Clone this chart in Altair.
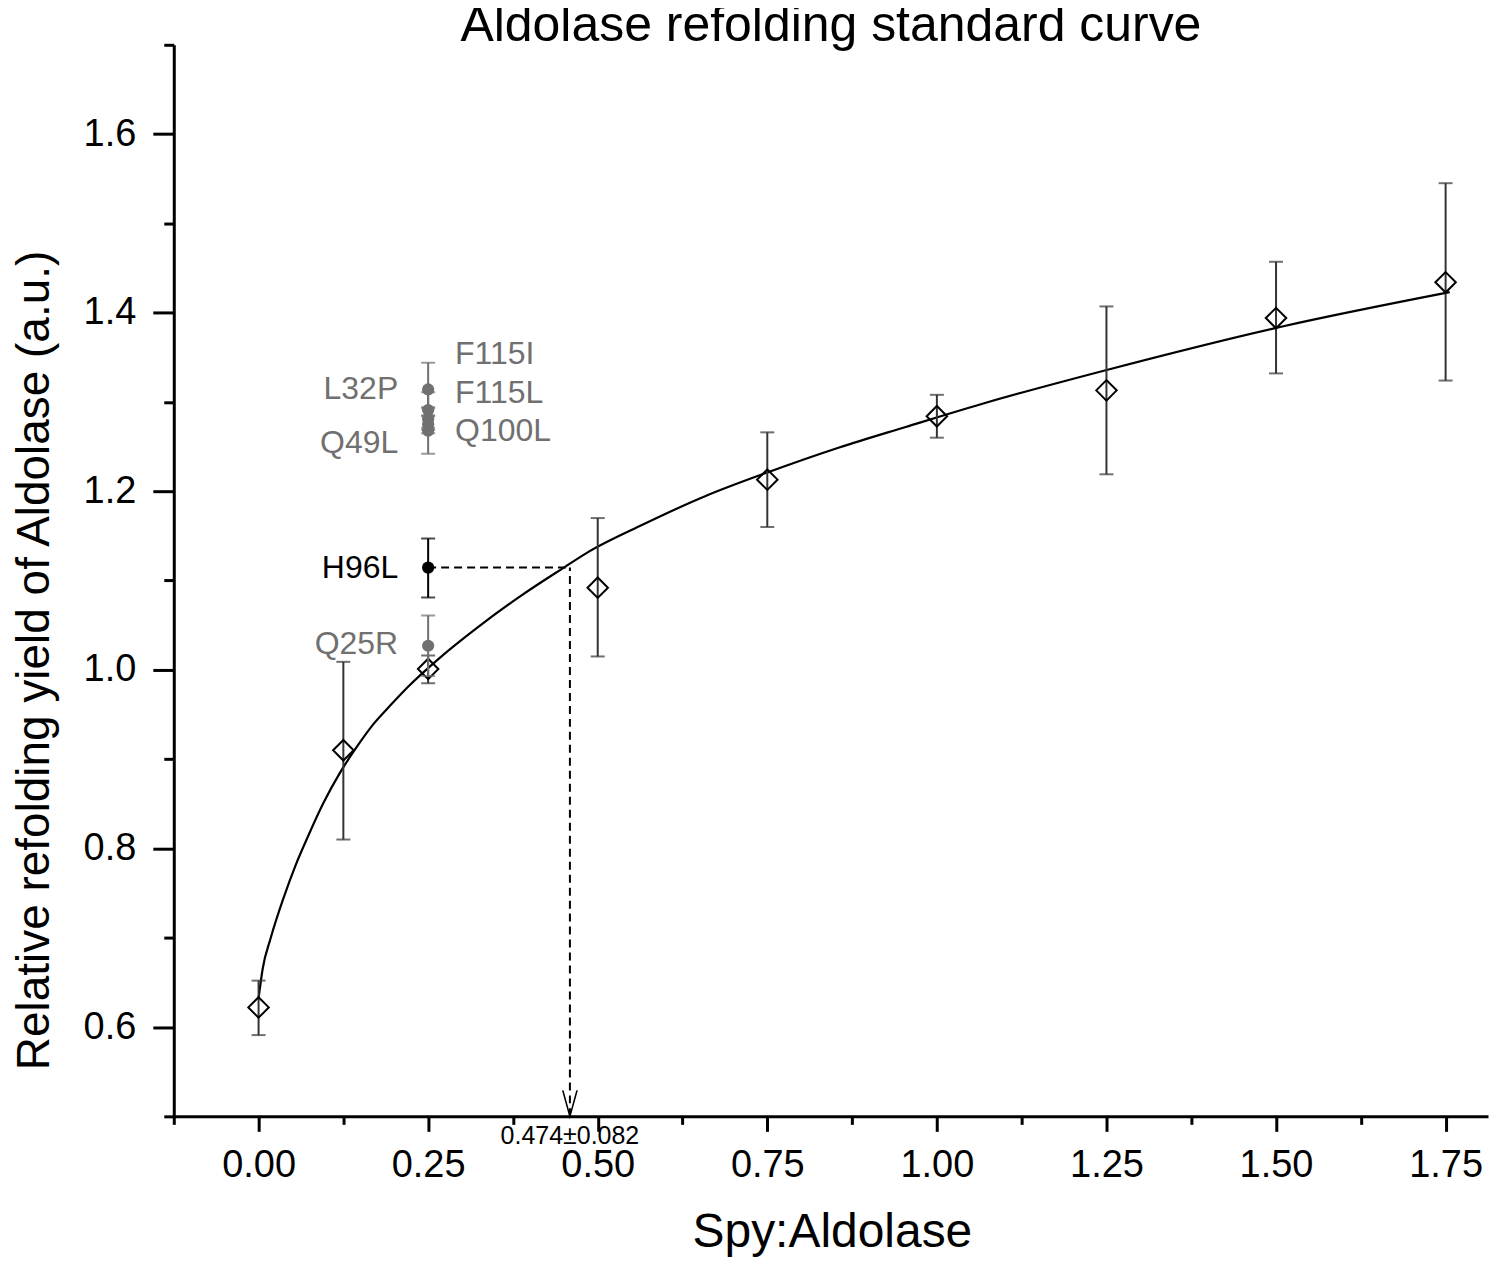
import altair as alt
import pandas as pd

# ---------------- data ----------------
std_x = [0.0, 0.125, 0.25, 0.5, 0.75, 1.0, 1.25, 1.5, 1.75]
std_y = [0.622, 0.910, 1.001, 1.092, 1.213, 1.284, 1.313, 1.394, 1.434]
std_lo = [0.591, 0.810, 0.985, 1.015, 1.160, 1.260, 1.219, 1.332, 1.324]
std_hi = [0.652, 1.009, 1.016, 1.170, 1.266, 1.308, 1.407, 1.457, 1.545]

curve_x = [0.0, 0.006, 0.018, 0.037, 0.055, 0.072, 0.095, 0.121, 0.145, 0.169,
           0.194, 0.219, 0.268, 0.322, 0.385, 0.449, 0.484, 0.562, 0.660, 0.750,
           0.856, 0.954, 1.076, 1.256, 1.506, 1.756]
curve_y = [0.632, 0.665, 0.700, 0.745, 0.782, 0.812, 0.850, 0.886, 0.914, 0.939,
           0.960, 0.980, 1.014, 1.047, 1.082, 1.114, 1.131, 1.161, 1.195, 1.221,
           1.249, 1.272, 1.300, 1.337, 1.384, 1.423]

mut_names = ["L32P", "F115I", "F115L", "Q100L", "Q49L", "H96L", "Q25R"]
mut_x = [0.25, 0.25, 0.25, 0.25, 0.25, 0.25, 0.25]
mut_y = [1.314, 1.291, 1.281, 1.275, 1.268, 1.1145, 1.027]
mut_lo = [1.284, 1.271, 1.269, 1.265, 1.242, 1.081, 0.993]
mut_hi = [1.344, 1.311, 1.293, 1.285, 1.294, 1.147, 1.061]
mut_color = ["#707070", "#707070", "#707070", "#707070", "#707070", "#000000", "#707070"]
mut_side = ["left", "right", "right", "right", "left", "left", "left"]
label_y = [1.314, 1.354, 1.310, 1.267, 1.254, 1.1145, 1.0295]

guide_x = 0.459          # read-off position of H96L on the curve
guide_y = 1.1145
guide_text = "0.474±0.082"

x_tick_values = [-0.125, 0.0, 0.125, 0.25, 0.375, 0.5, 0.625, 0.75, 0.875,
                 1.0, 1.125, 1.25, 1.375, 1.5, 1.625, 1.75]
y_tick_values = [0.5, 0.6, 0.7, 0.8, 0.9, 1.0, 1.1, 1.2, 1.3, 1.4, 1.5, 1.6, 1.7]

FONT = "Liberation Sans"

# ---------------- tables ----------------
std = pd.DataFrame({"x": std_x, "y": std_y, "lo": std_lo, "hi": std_hi})
curve = pd.DataFrame({"x": curve_x, "y": curve_y})
mut = pd.DataFrame({"name": mut_names, "x": mut_x, "y": mut_y, "lo": mut_lo,
                    "hi": mut_hi, "color": mut_color, "side": mut_side,
                    "ly": label_y})
hguide = pd.DataFrame({"x": [mut_x[5]], "x2": [guide_x], "y": [guide_y]})
vguide = pd.DataFrame({"x": [guide_x], "y": [0.5], "y2": [guide_y], "t": [guide_text]})

xscale = alt.Scale(domain=[-0.125, 1.8125], nice=False, zero=False)
yscale = alt.Scale(domain=[0.5, 1.7], nice=False, zero=False)

xaxis = alt.Axis(
    values=x_tick_values,
    labelExpr="round(datum.value*8) % 2 == 0 ? format(datum.value, '.2f') : ''",
    tickSize={"condition": {"test": "round(datum.value*8) % 2 == 0", "value": 15}, "value": 8},
    labelPadding=15,
    title="Spy:Aldolase",
    titleX=659, titleY=130, titleBaseline="alphabetic", titleAlign="center",
    titleFontSize=48,
)
yaxis = alt.Axis(
    values=y_tick_values,
    labelExpr="round(datum.value*10) % 2 == 0 ? format(datum.value, '.1f') : ''",
    tickSize={"condition": {"test": "round(datum.value*10) % 2 == 0", "value": 21}, "value": 10},
    labelPadding=17,
    title="Relative refolding yield of Aldolase (a.u.)",
    titleX=-139, titleY=616, titleBaseline="middle", titleAlign="center",
    titleAngle=-90, titleFontSize=46,
)


def X(field="x"):
    return alt.X(f"{field}:Q", scale=xscale, axis=xaxis)


def Y(field="y"):
    return alt.Y(f"{field}:Q", scale=yscale, axis=yaxis)


# ---------------- layers ----------------
fit = alt.Chart(curve).mark_line(color="black", strokeWidth=2.2, interpolate="monotone").encode(
    x=X(), y=Y())

std_bar = alt.Chart(std).mark_rule(color="#333333", strokeWidth=2).encode(
    x=X(), y=Y("lo"), y2="hi")
std_cap_lo = alt.Chart(std).mark_tick(color="#333333", orient="horizontal", size=14, thickness=2).encode(
    x=X(), y=Y("lo"))
std_cap_hi = alt.Chart(std).mark_tick(color="#333333", orient="horizontal", size=14, thickness=2).encode(
    x=X(), y=Y("hi"))
std_pts = alt.Chart(std).mark_point(shape="diamond", filled=False, color="black", size=420,
                                    strokeWidth=2, opacity=1).encode(x=X(), y=Y())

mut_bar = alt.Chart(mut).mark_rule(strokeWidth=2).encode(
    x=X(), y=Y("lo"), y2="hi", color=alt.Color("color:N", scale=None))
mut_cap_lo = alt.Chart(mut).mark_tick(orient="horizontal", size=14, thickness=2).encode(
    x=X(), y=Y("lo"), color=alt.Color("color:N", scale=None))
mut_cap_hi = alt.Chart(mut).mark_tick(orient="horizontal", size=14, thickness=2).encode(
    x=X(), y=Y("hi"), color=alt.Color("color:N", scale=None))
mut_pts = alt.Chart(mut).mark_point(shape="circle", filled=True, size=150, opacity=1).encode(
    x=X(), y=Y(), color=alt.Color("color:N", scale=None))

lab_left = alt.Chart(mut).transform_filter("datum.side == 'left'").mark_text(
    align="right", baseline="middle", dx=-30, fontSize=32, font=FONT).encode(
    x=X(), y=Y("ly"), text="name:N", color=alt.Color("color:N", scale=None))
lab_right = alt.Chart(mut).transform_filter("datum.side == 'right'").mark_text(
    align="left", baseline="middle", dx=27, fontSize=32, font=FONT).encode(
    x=X(), y=Y("ly"), text="name:N", color=alt.Color("color:N", scale=None))

h_dash = alt.Chart(hguide).mark_rule(color="black", strokeWidth=2, strokeDash=[8, 5]).encode(
    x=X(), x2="x2", y=Y())
v_dash = alt.Chart(vguide).mark_rule(color="black", strokeWidth=2, strokeDash=[8, 5]).encode(
    x=X(), y=Y(), y2="y2")
arrow = alt.Chart(vguide).mark_point(shape="M-0.55,-1L0,1L0.55,-1", filled=False, color="black",
                                     size=676, strokeWidth=1.6, opacity=1, yOffset=-13).encode(
    x=X(), y=Y())
guide_lab = alt.Chart(vguide).mark_text(baseline="top", align="center", dy=8, fontSize=25,
                                        font=FONT, color="black").encode(
    x=X(), y=Y(), text="t:N")

chart = alt.layer(
    fit, std_bar, std_cap_lo, std_cap_hi, std_pts,
    h_dash, v_dash, arrow, guide_lab,
    mut_bar, mut_cap_lo, mut_cap_hi, mut_pts, lab_left, lab_right,
).properties(
    width=1316,
    height=1073,
    background="white",
    title=alt.TitleParams("Aldolase refolding standard curve", fontSize=50, font=FONT,
                          fontWeight="normal", anchor="middle", frame="group",
                          baseline="alphabetic", offset=0, dy=48, color="black"),
    autosize=alt.AutoSizeParams(type="none"),
    padding={"left": 166, "top": 36, "right": 4, "bottom": 140},
).configure_view(
    stroke=None
).configure_axis(
    grid=False,
    domainColor="black", domainWidth=3,
    tickColor="black", tickWidth=3,
    labelFont=FONT, labelFontSize=38, labelColor="black",
    titleFont=FONT, titleColor="black", titleFontWeight="normal",
)

chart.save("out.html", embed_options={"renderer": "svg", "actions": False})
